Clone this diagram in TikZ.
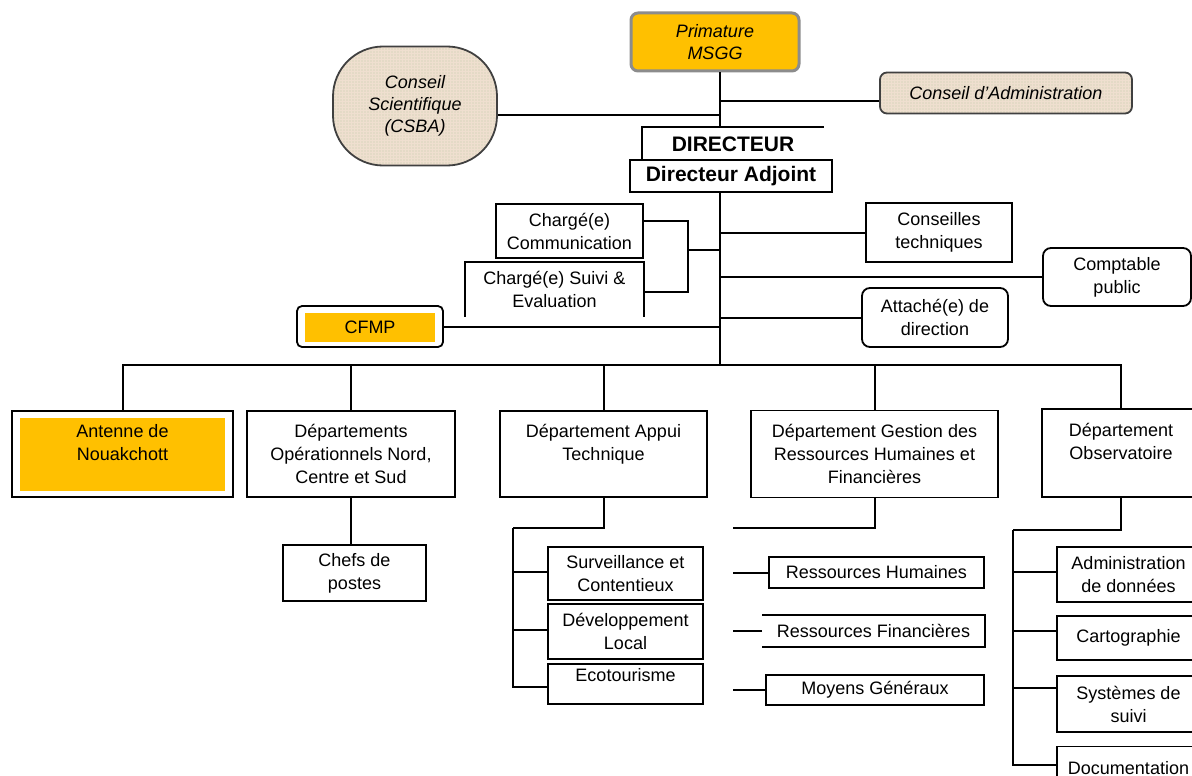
\documentclass[tikz,border=0pt]{standalone}
\usepackage{fontspec}
\setmainfont{Liberation Sans}
\usetikzlibrary{patterns}
\definecolor{amber}{RGB}{255,192,0}
\definecolor{sand}{RGB}{228,218,198}

\begin{document}
\begin{tikzpicture} [
        x=1pt, y=-1pt, line width=2pt,
        box/.style={draw, rectangle, line width=1.8pt, align=center, inner sep=1pt,
                    font=\fontsize{18}{23}\selectfont},
        rbox/.style={box, rounded corners=8pt},
        bare/.style={box, draw=none},
        beige/.style={preaction={fill=sand}, pattern=grid, pattern color=brown!25,
                      draw=black!75, line width=1.8pt, rounded corners=7pt, align=center,
                      font=\fontsize{18}{22}\selectfont\itshape},
        primbox/.style={fill=amber, draw=black!45, line width=3pt, rounded corners=7pt,
                        align=center, font=\fontsize{18}{22}\selectfont\itshape},
        goldbox/.style={fill=amber, inner sep=0pt, align=center,
                        font=\fontsize{18}{23}\selectfont},
        sz/.style 2 args={minimum width=#1pt, minimum height=#2pt} ]
    \useasboundingbox (0,0) rectangle (1192,776);
    \clip (0,0) rectangle (1192,776);
    \coordinate (spine) at (720,0);
    \coordinate (bus) at (720,365);

    % top
    \node[primbox, sz={168}{58}] (prim) at (715,42) {Primature\\MSGG};
    \node[beige, rounded corners=50pt, sz={164}{119}] (csba) at (415,106) {Conseil\\Scientifique\\(CSBA)};
    \node[beige, sz={252}{41}] (ca) at (1006,93) {Conseil d'Administration};
    \node[bare, sz={180}{32}, font=\fontsize{21}{24}\selectfont\bfseries] (dir) at (733,144) {DIRECTEUR};
    \node[box, sz={202}{32}, font=\fontsize{21}{24}\selectfont\bfseries] (dira) at (731,176) {Directeur Adjoint};
    \draw (dir.south west) -- (dir.north west) -- (dir.north east);
    \draw (spine |- prim.south) -- (spine |- dir.north);
    \draw ([yshift=-8pt]ca.west) -- ([yshift=-8pt]ca.west -| spine);
    \draw ([yshift=-9pt]csba.east) -- ([yshift=-9pt]csba.east -| spine);
    \draw (spine |- dira.south) -- (bus);

    % staff
    \node[box, sz={147}{54}] (com) at (569.5,231) {Chargé(e)\\Communication};
    \node[bare, sz={177}{53}] (suivi) at (554.5,289.5) {Chargé(e) Suivi \&\\Evaluation};
    \draw (suivi.south west) -- (suivi.north west) -- (suivi.north east) -- (suivi.south east);
    \coordinate (cj) at (688,250);
    \draw ([yshift=10pt]com.east) -| (cj);
    \draw ([yshift=-2pt]suivi.east) -| (cj);
    \draw (cj) -- (cj -| spine);
    \node[box, sz={146}{59}] (ct) at (939,232.5) {Conseilles\\techniques};
    \node[rbox, sz={148}{58}] (cp) at (1117,277) {Comptable\\public};
    \node[rbox, sz={146}{59}] (att) at (935,317.5) {Attaché(e) de\\direction};
    \node[rbox, rounded corners=5pt, sz={146}{41}] (cfmp) at (370,326.5) {};
    \node[goldbox, sz={130}{29}] (cfmpin) at (370,327) {CFMP};
    \draw (ct.west) -- (ct.west -| spine);
    \draw (cp.west) -- (cp.west -| spine);
    \draw (att.west) -- (att.west -| spine);
    \draw (cfmp.east) -- (cfmp.east -| spine);

    % departments
    \node[box, sz={221}{86}] (ant) at (122.5,454) {};
    \node[goldbox, sz={205}{73}] (antin) at (122.5,454) {Antenne de\\Nouakchott\\~};
    \node[box, sz={208}{86}] (dop) at (351,454) {Départements\\Opérationnels Nord,\\Centre et Sud};
    \node[box, sz={207}{86}] (dat) at (603.5,454) {Département Appui\\Technique\\~};
    \node[box, sz={247}{87}] (dgr) at (874.5,454) {Département Gestion des\\Ressources Humaines et\\Financières};
    \node[box, sz={158}{88}] (dob) at (1121,453) {Département\\Observatoire\\~};
    \foreach \n in {ant,dop,dat,dgr,dob}
        \draw (\n.north) |- (bus);

    % Operationnels
    \node[box, sz={143}{56}] (chefs) at (354.5,573) {Chefs de\\postes};
    \draw (dop.south) -- (dop.south |- chefs.north);

    % Appui Technique
    \node[box, sz={155}{53}] (surv) at (625.5,573.5) {Surveillance et\\Contentieux};
    \node[box, sz={155}{55}] (dev) at (625.5,631.5) {Développement\\Local};
    \node[box, sz={155}{40}] (eco) at (625.5,684) {Ecotourisme\\[-4pt]~};
    \coordinate (datj) at (513,528);
    \draw (dat.south) |- (datj);
    \draw ([yshift=1.5pt]surv.west) -| (datj);
    \draw ([yshift=1.5pt]dev.west) -| (datj);
    \draw ([yshift=-3pt]eco.west) -| (datj);

    % Gestion RH
    \node[box, sz={215}{31}] (rh) at (876.5,572.5) {Ressources Humaines};
    \node[bare, sz={221}{30}] (rf) at (873.5,631) {Ressources Financières};
    \draw (rf.north west) -- (rf.north east) -- (rf.south east) -- (rf.south west);
    \node[box, sz={218}{30}] (mg) at (875,690) {Moyens Généraux};
    \coordinate (dgrj) at (733,528);
    \draw (dgr.south) |- (dgrj);
    \foreach \n in {rh,rf,mg}
        \draw (\n.west) -- (\n.west -| dgrj);

    % Observatoire
    \node[box, sz={143}{55}] (adm) at (1128.5,574.5) {Administration\\de données};
    \node[box, sz={143}{44}] (carto) at (1128.5,638) {Cartographie};
    \node[box, sz={143}{56}] (sys) at (1128.5,704) {Systèmes de\\suivi};
    \node[box, sz={143}{43}] (doc) at (1128.5,768) {Documentation};
    \coordinate (dobj) at (1013,530);
    \draw (dob.south) |- (dobj);
    \draw ([yshift=3pt]adm.west) -| (dobj);
    \draw ([yshift=7pt]carto.west) -| (dobj);
    \draw ([yshift=16pt]sys.west) -| (dobj);
    \draw ([yshift=3pt]doc.west) -| (dobj);
\end{tikzpicture}
\end{document}
